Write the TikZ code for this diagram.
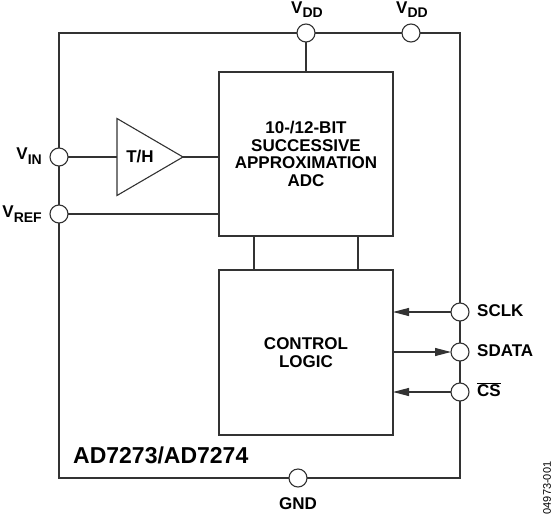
\documentclass[tikz,border=0pt]{standalone}
\usepackage{fontspec}
\setmainfont{Liberation Sans}
\usetikzlibrary{positioning,shapes.geometric,arrows.meta}

\tikzset{
  wire/.style={draw=black!80, line width=1.1pt},
  blk/.style={wire, rectangle, minimum width=174pt, inner sep=0pt, outer sep=0pt,
    align=center, font=\fontsize{17}{17.5}\selectfont\bfseries},
  pin/.style={wire, circle, fill=white, minimum size=18pt, inner sep=0pt, outer sep=0pt},
  lbl/.style={font=\fontsize{17}{18}\selectfont\bfseries, inner sep=0pt},
  sig/.style={wire, -{Triangle[length=16pt,width=8pt]}},
}
\newcommand{\lo}[1]{\raisebox{-4.5pt}{\fontsize{14}{14}\selectfont #1}}

\begin{document}
\begin{tikzpicture}[x=1pt,y=-1pt]
\useasboundingbox (0,0) rectangle (553,516);

% Chip outline
\draw[wire] (59,33) rectangle (460,478);

% Blocks
\node[blk, minimum height=164pt] (adc) at (306,154)
  {10-/12-BIT\\SUCCESSIVE\\APPROXIMATION\\ADC};
\node[blk, minimum height=165pt] (ctrl) at (306,352.5) {CONTROL\\LOGIC};
\node[wire, lbl, isosceles triangle, isosceles triangle stretches,
  minimum width=77pt, minimum height=66pt, outer sep=0pt, anchor=west] (th) at (117,157) {T/H};

% Pins
\node[pin] (vdda) at (306,33) {};
\node[pin] (vddb) at (411,33) {};
\node[pin] (vin) at (59,157) {};
\node[pin] (vref) at (59,214) {};
\node[pin] (gnd) at (298,478) {};
\node[pin] (sclk) at (460,312) {};
\node[pin] (sdata) at (460,352) {};
\node[pin] (cs) at (460,392) {};

% Connections
\draw[wire] (vdda) -- (adc);
\draw[wire] (vin) -- (th.west);
\draw[wire] (th.apex) -- (adc.west |- th.apex);
\draw[wire] (vref) -- (adc.west |- vref);
\foreach \x/\n in {254/a,358/b}{
  \coordinate (bus\n) at (\x,0);
  \draw[wire] (adc.south -| bus\n) -- (ctrl.north -| bus\n);
}
\draw[sig] (sclk) -- (ctrl.east |- sclk);
\draw[sig] (ctrl.east |- sdata) -- (sdata);
\draw[sig] (cs) -- (ctrl.east |- cs);

% Labels
\node[lbl, anchor=base] at (307,13.5) {V\lo{DD}};
\node[lbl, anchor=base] at (412,13.5) {V\lo{DD}};
\node[lbl, anchor=base east] at (42,159.5) {V\lo{IN}};
\node[lbl, anchor=base east] at (42,217.5) {V\lo{REF}};
\node[lbl, anchor=base] at (298,509) {GND};
\node[lbl, anchor=base west] at (477,316.5) {SCLK};
\node[lbl, anchor=base west] at (477,356.5) {SDATA};
\node[lbl, anchor=base west] at (477,396.5) {$\overline{\hbox{CS}}$};
\node[lbl, anchor=base west, font=\fontsize{23}{23}\selectfont\bfseries] at (73,463.5) {AD7273/AD7274};
\node[font=\fontsize{11}{11}\selectfont, rotate=90, inner sep=0pt] at (547,488) {04973-001};

\end{tikzpicture}
\end{document}
